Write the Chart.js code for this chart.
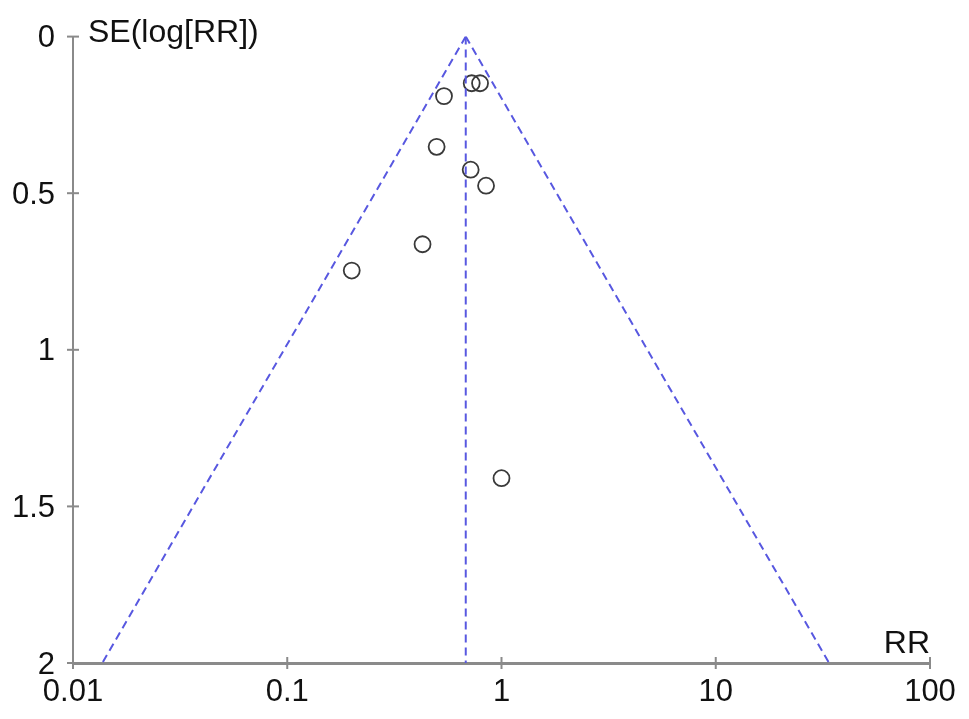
<!DOCTYPE html>
<html>
<head>
<meta charset="utf-8">
<script src="https://cdn.jsdelivr.net/npm/chart.js@4/dist/chart.umd.min.js"></script>
<style>
html,body{margin:0;padding:0;background:#fff;}
#c{display:block;}
</style>
</head>
<body>
<canvas id="c" width="969" height="719"></canvas>
<script>
// Study estimates (risk ratio) and their standard errors of log RR
const studyRR = [0.726, 0.794, 0.539, 0.498, 0.718, 0.847, 0.428, 0.200, 1.00];
const studySE = [0.149, 0.149, 0.190, 0.352, 0.425, 0.476, 0.663, 0.747, 1.410];
// Pooled estimate and funnel limits
const pooledRR = 0.681;
const funnelSE = [0, 2];
const funnelLower = [0.681, 0.0137];
const funnelUpper = [0.681, 33.8];
const xTicks = [0.01, 0.1, 1, 10, 100];
const xTickLabels = ['0.01', '0.1', '1', '10', '100'];
const yTicks = [0, 0.5, 1, 1.5, 2];
const yTickLabels = ['0', '0.5', '1', '1.5', '2'];

const FONT = 'Liberation Sans, Arial, Helvetica, sans-serif';
const AXIS_COLOR = '#8a8a8a';
const DASH_COLOR = '#5858e0';

const pts = studyRR.map((v, i) => ({x: v, y: studySE[i]}));
const lower = funnelSE.map((s, i) => ({x: funnelLower[i], y: s}));
const upper = funnelSE.map((s, i) => ({x: funnelUpper[i], y: s}));
const mid = funnelSE.map(s => ({x: pooledRR, y: s}));

const lineDs = (data) => ({
  type: 'line', data, borderColor: DASH_COLOR, borderWidth: 2,
  borderDash: [8, 5], pointRadius: 0, fill: false, showLine: true, tension: 0
});

const extras = {
  id: 'extras',
  afterDraw(chart) {
    const ctx = chart.ctx;
    const xs = chart.scales.x, ys = chart.scales.y;
    const ca = chart.chartArea;
    ctx.save();
    ctx.strokeStyle = AXIS_COLOR;
    ctx.lineWidth = 2;
    // crossing tick marks
    xTicks.forEach(v => {
      const px = xs.getPixelForValue(v);
      ctx.beginPath(); ctx.moveTo(px, ca.bottom - 6); ctx.lineTo(px, ca.bottom + 6); ctx.stroke();
    });
    yTicks.forEach(v => {
      const py = ys.getPixelForValue(v);
      ctx.beginPath(); ctx.moveTo(ca.left - 6, py); ctx.lineTo(ca.left + 6, py); ctx.stroke();
    });
    ctx.fillStyle = '#111';
    ctx.font = '32px ' + FONT;
    ctx.textBaseline = 'alphabetic';
    ctx.textAlign = 'left';
    ctx.fillText('SE(log[RR])', ca.left + 15, ca.top + 5);
    ctx.textAlign = 'right';
    ctx.fillText('RR', ca.right, ca.bottom - 10);
    ctx.restore();
  }
};

new Chart(document.getElementById('c'), {
  type: 'scatter',
  data: {
    datasets: [
      lineDs(lower), lineDs(upper), lineDs(mid),
      {
        type: 'scatter', data: pts, pointStyle: 'circle', pointRadius: 8,
        borderColor: '#3a3a3a', backgroundColor: 'rgba(0,0,0,0)', borderWidth: 1.8
      }
    ]
  },
  options: {
    responsive: false,
    animation: false,
    layout: {padding: {top: 33, right: 39, left: 0, bottom: 0}},
    plugins: {legend: {display: false}, tooltip: {enabled: false}},
    scales: {
      x: {
        type: 'logarithmic', min: 0.01, max: 100,
        afterBuildTicks: s => { s.ticks = xTicks.map(v => ({value: v})); },
        afterFit: s => { s.height = 56; },
        ticks: {
          color: '#111', font: {family: FONT, size: 31}, padding: 11,
          maxRotation: 0, autoSkip: false,
          callback: (v) => { const i = xTicks.indexOf(v); return i >= 0 ? xTickLabels[i] : ''; }
        },
        grid: {display: true, drawOnChartArea: false, drawTicks: false},
        border: {display: true, color: AXIS_COLOR, width: 3}
      },
      y: {
        type: 'linear', reverse: true, min: 0, max: 2,
        afterBuildTicks: s => { s.ticks = yTicks.map(v => ({value: v})); },
        afterFit: s => { s.width = 73; },
        ticks: {
          color: '#111', font: {family: FONT, size: 31}, padding: 18, labelOffset: 2,
          callback: (v) => { const i = yTicks.indexOf(v); return i >= 0 ? yTickLabels[i] : ''; }
        },
        grid: {display: true, drawOnChartArea: false, drawTicks: false},
        border: {display: true, color: AXIS_COLOR, width: 2}
      }
    }
  },
  plugins: [extras]
});
</script>
</body>
</html>
